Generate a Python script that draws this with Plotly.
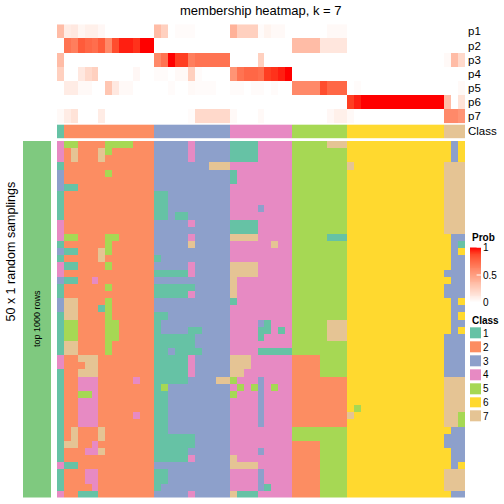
import plotly.graph_objects as go

# ---------------- data ----------------
n_samples = 59
n_samplings = 50
class_ids = [1] + [2]*13 + [3]*11 + [4]*9 + [5]*8 + [6]*14 + [7]*3
class_labels = ["1", "2", "3", "4", "5", "6", "7"]
class_colors = ["#66C2A5", "#FC8D62", "#8DA0CB", "#E78AC3", "#A6D854", "#FFD92F", "#E5C494"]
prob_labels = ["p1", "p2", "p3", "p4", "p5", "p6", "p7"]
prob_ticks = [0, 0.5, 1]
prob_tick_text = ["0", "0.5", "1"]

def row_of(vals):
    r = [0.0]*n_samples
    for (a, b, v) in vals:
        for c in range(a, b+1):
            r[c] = v
    return r

p1 = row_of([(0,0,0.35),(1,1,0.1),(2,2,0.12),(3,3,0.05),(4,5,0.08),(6,6,0.04),(14,14,0.35),(15,15,0.25),
             (17,19,0.02),(25,25,0.4),(26,28,0.25),(29,29,0.02),(30,30,0.06),(31,32,0.03),(39,41,0.03)])
p2 = row_of([(1,1,0.7),(2,2,0.65),(3,3,0.8),(4,4,0.75),(5,5,0.72),(6,6,0.8),(7,7,0.6),(8,8,0.85),(9,10,0.95),
             (11,11,0.92),(12,13,1.0),(34,37,0.35),(38,41,0.13)])
p3 = row_of([(0,0,0.35),(14,14,0.6),(15,15,0.7),(16,16,1.0),(17,18,0.9),(19,19,0.65),(20,24,0.7),(29,29,0.25),
             (56,56,0.03),(57,57,0.35),(58,58,0.2)])
p4 = row_of([(0,0,0.25),(3,3,0.12),(4,4,0.2),(5,5,0.25),(11,11,0.04),(14,15,0.02),(17,18,0.03),(19,19,0.25),
             (20,20,0.02),(25,25,0.55),(26,26,0.7),(27,28,0.75),(29,29,0.72),(30,30,0.9),(31,31,0.92),
             (32,32,0.95),(33,33,1.0)])
p5 = row_of([(1,2,0.1),(3,4,0.03),(7,7,0.3),(8,8,0.12),(9,10,0.03),(16,16,0.02),(19,19,0.03),(20,22,0.02),
             (25,26,0.02),(28,29,0.02),(31,31,0.02),(34,37,0.6),(38,38,0.85),(39,41,0.75),(43,43,0.02),(58,58,0.03)])
p6 = row_of([(42,42,0.9),(43,43,0.95),(44,55,1.0),(56,56,0.35),(58,58,0.15)])
p7 = row_of([(0,0,0.03),(1,1,0.1),(2,2,0.15),(6,6,0.1),(19,19,0.02),(20,24,0.2),(25,25,0.03),(29,29,0.03),
             (39,39,0.04),(40,41,0.08),(42,42,0.03),(56,57,0.6),(58,58,0.55)])
prob = [p1, p2, p3, p4, p5, p6, p7]

# (row, first column, last column, class) where a sampling differs from the consensus class
deviations = [
(0,0,0,4),(0,1,2,5),(0,7,10,5),(0,19,19,4),(0,25,28,1),(0,39,41,7),(0,56,56,6),(0,57,57,3),(0,58,58,6),
(1,0,0,4),(1,2,2,7),(1,6,6,7),(1,7,7,5),(1,19,19,4),(1,25,28,1),(1,56,56,6),(1,57,57,3),(1,58,58,6),
(2,0,0,4),(2,2,2,7),(2,6,6,7),(2,19,19,4),(2,25,28,1),(2,56,56,6),(2,57,57,3),(2,58,58,6),
(3,22,24,7),(3,42,42,7),
(4,0,0,3),(4,7,7,5),(4,25,25,1),
(5,0,0,3),(5,25,25,1),
(6,0,0,3),(6,1,2,1),
(7,14,15,1),(8,14,15,1),(9,14,15,1),(9,29,29,3),
(10,14,15,1),(10,17,18,1),
(11,0,0,4),(11,19,19,4),(11,25,28,1),
(12,0,0,4),(12,25,28,1),
(13,0,0,4),(13,1,2,5),(13,7,8,5),(13,19,19,4),(13,25,28,7),(13,39,41,1),(13,56,56,6),(13,57,58,3),
(14,7,7,5),(14,19,19,7),(14,31,31,7),(14,56,56,6),(14,57,57,3),(14,58,58,1),
(15,0,0,3),(15,1,2,1),(15,6,6,7),(15,7,7,5),(15,56,56,6),(15,57,57,3),(15,58,58,6),
(16,6,6,7),(16,14,14,1),(16,56,56,6),(16,57,58,3),
(17,0,0,4),(17,1,2,1),(17,7,7,5),(17,19,19,4),(17,25,28,7),(17,56,56,6),(17,57,58,3),
(18,0,0,4),(18,14,18,1),(18,19,19,4),(18,25,28,7),(18,56,58,3),
(19,0,0,3),(19,1,2,1),(19,5,5,4),(19,25,25,7),(19,56,56,6),(19,57,58,3),
(20,7,7,5),(20,14,19,1),(20,25,25,7),(20,56,58,3),
(21,14,18,1),(21,19,19,4),(21,25,25,7),(21,56,58,3),
(22,0,0,3),(22,1,2,7),(22,7,7,5),(22,25,25,1),(22,56,56,6),(22,57,57,3),(22,58,58,6),
(23,0,0,3),(23,1,2,7),(23,6,6,1),(23,7,7,5),(23,56,56,6),(23,57,58,3),
(24,1,2,7),(24,7,7,5),(24,14,15,1),(24,56,56,6),(24,57,57,3),(24,58,58,6),
(25,1,2,5),(25,7,8,5),(25,14,14,1),(25,29,29,3),(25,30,30,1),(25,39,41,7),(25,56,56,6),(25,57,58,3),
(26,1,2,5),(26,7,8,5),(26,14,14,1),(26,19,20,1),(26,29,30,1),(26,32,32,1),(26,39,41,7),(26,56,56,6),(26,57,57,3),(26,58,58,6),
(27,1,2,5),(27,7,8,5),(27,14,19,1),(27,29,29,1),(27,39,41,7),(27,56,58,3),
(28,1,2,7),(28,7,7,5),(28,14,19,1),(28,56,58,3),
(29,1,2,7),(29,7,7,5),(29,14,15,1),(29,17,20,1),(29,29,33,1),(29,56,58,3),
(30,0,0,4),(30,3,5,7),(30,14,18,1),(30,19,19,4),(30,25,27,7),(30,34,37,2),(30,56,58,3),
(31,0,0,4),(31,4,5,7),(31,14,18,1),(31,19,19,4),(31,25,27,7),(31,34,37,2),(31,56,58,3),
(32,3,5,7),(32,14,18,1),(32,19,19,4),(32,25,26,7),(32,34,37,2),(32,56,58,3),
(33,3,5,4),(33,11,11,4),(33,14,18,1),(33,23,24,7),(33,25,25,5),(33,29,29,3),(33,34,41,2),
(34,3,5,4),(34,14,14,1),(34,15,15,5),(34,26,26,5),(34,28,28,5),(34,29,29,3),(34,31,31,5),(34,34,41,2),
(35,3,4,5),(35,5,5,4),(35,14,15,1),(35,25,25,5),(35,29,29,3),(35,34,41,2),
(36,3,5,4),(36,14,15,1),(36,29,29,3),(36,34,41,2),
(37,3,5,4),(37,14,15,1),(37,29,29,3),(37,34,41,2),(37,43,43,5),
(38,3,5,4),(38,11,11,4),(38,14,15,1),(38,29,29,3),(38,34,41,2),(38,42,42,7),(38,58,58,5),
(39,3,5,4),(39,14,15,1),(39,29,29,3),(39,34,41,2),(39,58,58,5),
(40,2,2,7),(40,6,6,7),(40,14,15,1),(40,56,56,6),(40,57,58,3),
(41,2,2,7),(41,6,6,7),(41,14,19,1),(41,56,58,3),
(42,1,2,7),(42,5,5,4),(42,14,19,1),(42,34,37,2),(42,56,58,3),
(43,4,5,4),(43,6,6,7),(43,14,18,1),(43,29,29,3),(43,34,37,2),(43,56,56,6),(43,57,58,3),
(44,14,18,1),(44,19,19,4),(44,25,25,7),(44,34,37,2),(44,56,56,6),(44,57,58,3),
(45,0,0,4),(45,1,2,1),(45,25,28,7),(45,34,37,2),(45,56,56,6),(45,57,57,3),(45,58,58,6),
(46,4,5,4),(46,14,15,1),(46,29,29,3),(46,34,37,2),
(47,4,5,4),(47,14,15,1),(47,29,29,3),(47,34,37,2),
(48,5,5,4),(48,14,14,1),(48,29,29,3),(48,30,30,1),(48,34,37,2),
(49,0,0,4),(49,3,5,1),(49,19,19,4),(49,25,25,7),(49,26,28,1),(49,34,37,2),(49,56,56,6),(49,57,58,3),
]

membership = [list(class_ids) for _ in range(n_samplings)]
for (r, a, b, cls) in deviations:
    for c in range(a, b+1):
        membership[r][c] = cls

# ---------------- styling helpers ----------------
FONT = "Liberation Sans, Arial, Helvetica, sans-serif"
W = H = 504

def px_x(v):
    return v / W

def px_y(v):
    return 1 - v / H

def lab_to_hex(L, a, b):
    fy = (L + 16) / 116
    fx = fy + a / 500
    fz = fy - b / 200
    def finv(t):
        return t**3 if t**3 > 0.008856 else (t - 16/116) / 7.787
    X, Y, Z = 0.95047*finv(fx), finv(fy), 1.08883*finv(fz)
    rl = 3.2406*X - 1.5372*Y - 0.4986*Z
    gl = -0.9689*X + 1.8758*Y + 0.0415*Z
    bl = 0.0557*X - 0.2040*Y + 1.0570*Z
    def g(c):
        c = 12.92*c if c <= 0.0031308 else 1.055*c**(1/2.4) - 0.055
        return max(0, min(255, round(c*255)))
    return "#%02X%02X%02X" % (g(rl), g(gl), g(bl))

white_lab = (100.0, 0.0, 0.0)
red_lab = (53.24, 80.09, 67.20)
prob_scale = []
for i in range(11):
    t = i / 10
    L = white_lab[0] + (red_lab[0]-white_lab[0])*t
    A = white_lab[1] + (red_lab[1]-white_lab[1])*t
    B = white_lab[2] + (red_lab[2]-white_lab[2])*t
    prob_scale.append([t, lab_to_hex(L, A, B)])

n_cls = len(class_colors)
class_scale = []
for i, c in enumerate(class_colors):
    class_scale.append([i/n_cls, c])
    class_scale.append([(i+1)/n_cls, c])

# gradient used for the Prob colour key
grad_steps = 60
grad_levels = [i/(grad_steps-1) for i in range(grad_steps)]

# ---------------- figure ----------------
fig = go.Figure()

fig.add_trace(go.Heatmap(z=membership, x=list(range(n_samples)), y=list(range(n_samplings)),
                         colorscale=class_scale, zmin=0.5, zmax=n_cls+0.5, showscale=False,
                         xaxis="x", yaxis="y", hoverinfo="skip"))

fig.add_trace(go.Heatmap(z=prob, x=list(range(n_samples)), y=list(range(len(prob_labels))),
                         colorscale=prob_scale, zmin=0, zmax=1, showscale=False,
                         xaxis="x2", yaxis="y2", hoverinfo="skip"))

fig.add_trace(go.Heatmap(z=[class_ids], x=list(range(n_samples)), y=[0],
                         colorscale=class_scale, zmin=0.5, zmax=n_cls+0.5, showscale=False,
                         xaxis="x3", yaxis="y3", hoverinfo="skip"))

fig.add_trace(go.Heatmap(z=[[i+1] for i in range(n_cls)], x=[0], y=list(range(n_cls)),
                         colorscale=class_scale, zmin=0.5, zmax=n_cls+0.5, showscale=False,
                         ygap=3, xaxis="x4", yaxis="y4", hoverinfo="skip"))

fig.add_trace(go.Heatmap(z=[[v] for v in grad_levels], x=[0], y=grad_levels,
                         colorscale=prob_scale, zmin=0, zmax=1, showscale=False,
                         xaxis="x5", yaxis="y5", hoverinfo="skip"))

hx = [px_x(57), px_x(465)]
hidden = dict(visible=False, showgrid=False, zeroline=False, fixedrange=True, automargin=False)
labelaxis = dict(showgrid=False, zeroline=False, showline=False, ticks="", side="right", fixedrange=True,
                 automargin=False, ticklabelstandoff=2, tickfont=dict(family=FONT, size=11.5, color="black"))
small = {**labelaxis, "ticklabelstandoff": 1, "tickfont": dict(family=FONT, size=10, color="black")}

fig.update_layout(
    width=W, height=H, margin=dict(l=0, r=0, t=0, b=0, autoexpand=False),
    paper_bgcolor="white", plot_bgcolor="white", showlegend=False,
    font=dict(family=FONT, color="black"),
    xaxis=dict(domain=hx, range=[-0.5, n_samples-0.5], anchor="y", **hidden),
    yaxis=dict(domain=[px_y(497.5), px_y(141)], range=[n_samplings-0.5, -0.5], anchor="x", **hidden),
    xaxis2=dict(domain=hx, range=[-0.5, n_samples-0.5], anchor="y2", **hidden),
    yaxis2=dict(domain=[px_y(123.3), px_y(24.3)], range=[len(prob_labels)-0.5, -0.5], anchor="x2",
                tickvals=list(range(len(prob_labels))), ticktext=prob_labels, **labelaxis),
    xaxis3=dict(domain=hx, range=[-0.5, n_samples-0.5], anchor="y3", **hidden),
    yaxis3=dict(domain=[px_y(138.4), px_y(124.4)], range=[0.5, -0.5], anchor="x3",
                tickvals=[0], ticktext=["Class"], **labelaxis),
    xaxis4=dict(domain=[px_x(470), px_x(481)], range=[-0.5, 0.5], anchor="y4", **hidden),
    yaxis4=dict(domain=[px_y(423.6), px_y(326.3)], range=[n_cls-0.5, -0.5], anchor="x4",
                tickvals=list(range(n_cls)), ticktext=class_labels, **small),
    xaxis5=dict(domain=[px_x(470), px_x(481)], range=[-0.5, 0.5], anchor="y5", **hidden),
    yaxis5=dict(domain=[px_y(302.5), px_y(247.5)], range=[0, 1], anchor="x5",
                tickvals=prob_ticks, ticktext=prob_tick_text, **small),
)

# white tick marks inside the Prob key
for v in prob_ticks[1:]:
    fig.add_shape(type="line", xref="x5", yref="y5", x0=0.1, x1=0.5, y0=v, y1=v,
                  line=dict(color="white", width=1))

fig.add_shape(type="rect", xref="paper", yref="paper", x0=px_x(23), x1=px_x(51),
              y0=px_y(497.5), y1=px_y(141), fillcolor="#7FC97F", line=dict(width=0), layer="below")

fig.add_annotation(text="membership heatmap, k = 7", x=px_x(261), y=px_y(10.5), xref="paper", yref="paper",
                   showarrow=False, xanchor="center", yanchor="middle", font=dict(family=FONT, size=13))
fig.add_annotation(text="50 x 1 random samplings", x=px_x(10), y=px_y(251.5), xref="paper", yref="paper",
                   showarrow=False, textangle=-90, xanchor="center", yanchor="middle",
                   font=dict(family=FONT, size=12.5))
fig.add_annotation(text="top 1000 rows", x=px_x(37), y=px_y(319), xref="paper", yref="paper",
                   showarrow=False, textangle=-90, xanchor="center", yanchor="middle",
                   font=dict(family=FONT, size=9))
fig.add_annotation(text="<b>Prob</b>", x=px_x(469.5), y=px_y(237), xref="paper", yref="paper",
                   showarrow=False, xanchor="left", yanchor="middle", font=dict(family=FONT, size=10))
fig.add_annotation(text="<b>Class</b>", x=px_x(469.5), y=px_y(320), xref="paper", yref="paper",
                   showarrow=False, xanchor="left", yanchor="middle", font=dict(family=FONT, size=10))

fig.write_html("out.html", config={"displayModeBar": False},
               post_script="document.body.style.margin='0px';document.body.style.overflow='hidden';")
